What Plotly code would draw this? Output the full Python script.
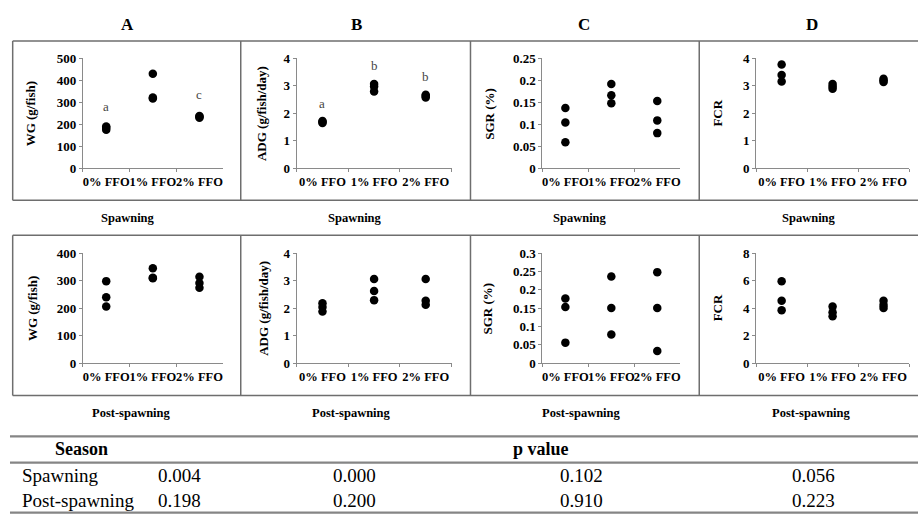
import plotly.graph_objects as go

W, H = 919, 523

categories = ["0% FFO", "1% FFO", "2% FFO"]

# replicate values per diet group (3 per group)
wg_spawn = [[175, 185, 190], [430, 318, 322], [230, 235, 238]]
adg_spawn = [[1.65, 1.69, 1.72], [3.07, 2.98, 2.80], [2.58, 2.63, 2.68]]
sgr_spawn = [[0.137, 0.104, 0.059], [0.192, 0.166, 0.148], [0.153, 0.109, 0.080]]
fcr_spawn = [[3.78, 3.40, 3.16], [3.07, 2.98, 2.90], [3.26, 3.20, 3.14]]

wg_post = [[298, 239, 206], [345, 308, 310], [314, 291, 274]]
adg_post = [[2.18, 2.04, 1.88], [3.06, 2.62, 2.29], [3.06, 2.27, 2.12]]
sgr_post = [[0.176, 0.153, 0.056], [0.236, 0.150, 0.078], [0.248, 0.150, 0.033]]
fcr_post = [[5.95, 4.54, 3.84], [4.12, 3.70, 3.41], [4.54, 4.23, 4.00]]

# y tick labels
wg_spawn_ticks = ["0", "100", "200", "300", "400", "500"]
wg_post_ticks = ["0", "100", "200", "300", "400"]
adg_ticks = ["0", "1", "2", "3", "4"]
sgr_spawn_ticks = ["0", "0.05", "0.1", "0.15", "0.2", "0.25"]
sgr_post_ticks = ["0", "0.05", "0.1", "0.15", "0.2", "0.25", "0.3"]
fcr_spawn_ticks = ["0", "1", "2", "3", "4"]
fcr_post_ticks = ["0", "2", "4", "6", "8"]

panel_letters = ["A", "B", "C", "D"]
y_titles = ["WG (g/fish)", "ADG (g/fish/day)", "SGR (%)", "FCR"]
row_titles = ["Spawning", "Post-spawning"]

# significance letters (spawning, panels A and B)
sig_A = ["a", "b", "c"]
sig_A_y = [283, 513, 336]
sig_B = ["a", "b", "b"]
sig_B_y = [2.36, 3.75, 3.34]

# p-value table
table_header = ["Season", "p value"]
table_rows = ["Spawning", "Post-spawning"]
p_spawn = ["0.004", "0.000", "0.102", "0.056"]
p_post = ["0.198", "0.200", "0.910", "0.223"]

FONT = "Liberation Serif, Times New Roman, serif"
AX = "#8a8a8a"
BOX = "#6e6e6e"


def X(px):
    return px / W


def Y(py):
    return 1 - py / H


# panel geometry in pixels (axis extents)
cols = [(83, 223), (297, 452), (543, 681), (757, 910)]
rows_px = [(53, 166), (253.3, 366.7)]

panels = [
    (0, 0, wg_spawn, wg_spawn_ticks),
    (0, 1, adg_spawn, adg_ticks),
    (0, 2, sgr_spawn, sgr_spawn_ticks),
    (0, 3, fcr_spawn, fcr_spawn_ticks),
    (1, 0, wg_post, wg_post_ticks),
    (1, 1, adg_post, adg_ticks),
    (1, 2, sgr_post, sgr_post_ticks),
    (1, 3, fcr_post, fcr_post_ticks),
]

fig = go.Figure()
layout = {}
for i, (r, c, vals, ticks) in enumerate(panels):
    k = "" if i == 0 else str(i + 1)
    xs, ys = [], []
    for ci, grp in enumerate(vals):
        for v in grp:
            xs.append(categories[ci])
            ys.append(v)
    fig.add_trace(go.Scatter(
        x=xs, y=ys, mode="markers", xaxis="x" + k, yaxis="y" + k,
        marker=dict(color="black", size=8.5), showlegend=False,
        hoverinfo="skip"))
    tv = [float(t) for t in ticks]
    x0, x1 = cols[c]
    yt, yb = rows_px[r]
    layout["xaxis" + k] = dict(
        domain=[X(x0), X(x1)], anchor="y" + k, type="category",
        categoryorder="array", categoryarray=categories,
        range=[-0.5, 2.5], tickson="boundaries", ticks="outside",
        ticklen=3, tickcolor=AX, showline=True, linecolor=AX,
        linewidth=1, showgrid=False, zeroline=False, tickangle=0,
        ticklabelstandoff=2,
        tickfont=dict(family=FONT, size=12.5, color="black", weight="bold"),
        fixedrange=True)
    layout["yaxis" + k] = dict(
        domain=[Y(yb), Y(yt)], anchor="x" + k, range=[tv[0], tv[-1]],
        tickvals=tv, ticktext=ticks, ticks="outside", ticklen=3,
        tickcolor=AX, showline=True, linecolor=AX, linewidth=1,
        showgrid=False, zeroline=False,
        tickfont=dict(family=FONT, size=13, color="black", weight="bold"),
        fixedrange=True)

ann = []
title_x = [128, 357, 585, 813]
for c in range(4):
    ann.append(dict(x=X(title_x[c]), y=Y(18), text="<b>%s</b>" % panel_letters[c],
                    font=dict(size=17)))
    ann.append(dict(x=X([128, 355, 581, 810][c]), y=Y(217),
                    text="<b>%s</b>" % row_titles[0], font=dict(size=12.5)))
    ann.append(dict(x=X([132, 352, 582, 812][c]), y=Y(418),
                    text="<b>%s</b>" % row_titles[1], font=dict(size=12.5)))
    for r, yx in enumerate([[30, 262, 490, 718], [32, 263, 488, 718]]):
        cy = (rows_px[r][0] + rows_px[r][1]) / 2
        ann.append(dict(x=X(yx[c]), y=Y(cy), text="<b>%s</b>" % y_titles[c],
                        textangle=-90, font=dict(size=13)))

# significance letters in data coordinates
for ci in range(3):
    ann.append(dict(x=categories[ci], y=sig_A_y[ci], xref="x", yref="y",
                    text=sig_A[ci], font=dict(size=13, color="#444")))
    ann.append(dict(x=categories[ci], y=sig_B_y[ci], xref="x2", yref="y2",
                    text=sig_B[ci], font=dict(size=13, color="#444")))

# table text
ann.append(dict(x=X(82), y=Y(455), text="<b>%s</b>" % table_header[0], font=dict(size=18)))
ann.append(dict(x=X(542), y=Y(455), text="<b>%s</b>" % table_header[1], font=dict(size=18)))
val_x = [180, 355, 582, 814]
for ri, (lab, vals) in enumerate(zip(table_rows, [p_spawn, p_post])):
    yy = [482, 508][ri]
    ann.append(dict(x=X(20), y=Y(yy), text=lab, xanchor="left", font=dict(size=19)))
    for vx, v in zip(val_x, vals):
        ann.append(dict(x=X(vx), y=Y(yy), text=v, font=dict(size=19)))

for a in ann:
    a.setdefault("xref", "paper")
    a.setdefault("yref", "paper")
    a.setdefault("showarrow", False)
    a.setdefault("xanchor", "center")
    a["yanchor"] = "middle"
    f = a["font"]
    f.setdefault("family", FONT)
    f.setdefault("color", "black")

shapes = []


def line(x0, y0, x1, y1, color=BOX, width=1.5):
    shapes.append(dict(type="line", xref="paper", yref="paper",
                       x0=X(x0), y0=Y(y0), x1=X(x1), y1=Y(y1),
                       line=dict(color=color, width=width)))


for (top, bot) in [(35, 199), (235, 400)]:
    line(12.7, top, W, top)
    line(12.7, bot, W, bot)
    for xv in [12.7, 241, 471, 700]:
        line(xv, top, xv, bot)

for yv in [442, 469, 520.5]:
    line(10, yv, W, yv, color="#858585", width=2.2)

layout.update(dict(
    width=W, height=H, autosize=False,
    margin=dict(l=0, r=0, t=0, b=0),
    paper_bgcolor="white", plot_bgcolor="rgba(0,0,0,0)",
    annotations=ann, shapes=shapes, showlegend=False,
    font=dict(family=FONT, color="black"),
))
fig.update_layout(**layout)
fig.write_html("out.html")
